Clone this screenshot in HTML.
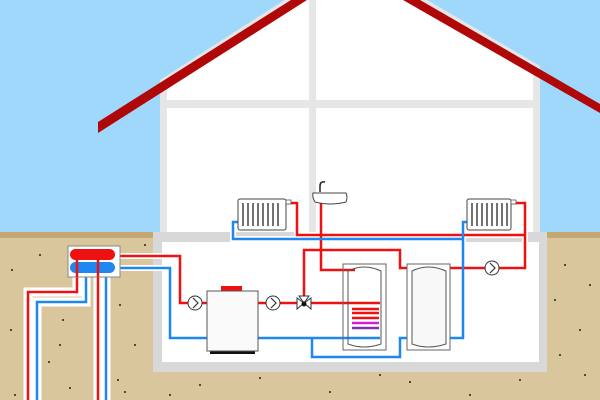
<!DOCTYPE html>
<html><head><meta charset="utf-8"><style>html,body{margin:0;padding:0;width:600px;height:400px;overflow:hidden;background:#a0d8fc}</style></head>
<body>
<svg width="600" height="400" viewBox="0 0 600 400" xmlns="http://www.w3.org/2000/svg">
<rect width="600" height="400" fill="#a0d8fc"/>
<!-- ground -->
<rect x="0" y="232" width="600" height="168" fill="#d9c69c"/>
<rect x="0" y="232" width="600" height="6" fill="#c4a772"/>
<g fill="#222">
<circle cx="12" cy="270" r="1"/><circle cx="40" cy="255" r="1"/><circle cx="145" cy="245" r="1"/><circle cx="11" cy="330" r="1"/><circle cx="63" cy="320" r="1"/><circle cx="49" cy="362" r="1"/><circle cx="70" cy="388" r="1"/><circle cx="120" cy="305" r="1"/><circle cx="135" cy="345" r="1"/><circle cx="118" cy="380" r="1"/><circle cx="140" cy="255" r="1"/><circle cx="15" cy="395" r="1"/><circle cx="60" cy="345" r="1"/><circle cx="125" cy="392" r="1"/><circle cx="200" cy="385" r="1"/><circle cx="260" cy="378" r="1"/><circle cx="330" cy="392" r="1"/><circle cx="410" cy="382" r="1"/><circle cx="470" cy="395" r="1"/><circle cx="520" cy="380" r="1"/><circle cx="565" cy="265" r="1"/><circle cx="555" cy="300" r="1"/><circle cx="580" cy="330" r="1"/><circle cx="590" cy="285" r="1"/><circle cx="560" cy="355" r="1"/><circle cx="585" cy="375" r="1"/><circle cx="170" cy="395" r="1"/><circle cx="380" cy="375" r="1"/><circle cx="30" cy="300" r="1"/><circle cx="155" cy="290" r="1"/>
</g>
<!-- house upper -->
<polygon points="160,232 160,80 300,-10 410,-10 540,66 540,232" fill="#e6e6e6"/>
<polygon points="167,232 167,88 300,0 410,0 533,72 533,232" fill="#fff"/>
<rect x="309" y="0" width="7" height="232" fill="#e6e6e6"/>
<rect x="160" y="100" width="380" height="8" fill="#e6e6e6"/>
<!-- roof -->
<polygon points="98,122 291,0 307,0 98,133" fill="#b00808"/>
<polygon points="403,0 420,0 600,104 600,113" fill="#b00808"/>
<!-- basement -->
<rect x="153" y="232" width="394" height="140" fill="#d8d8d8"/>
<rect x="162" y="242" width="377" height="120" fill="#fff"/>
<!-- pipes -->
<g fill="none" stroke-linejoin="miter" stroke="#fff" stroke-width="6">
<path d="M113,256H180V303H207M258,303H345M304,303V250H400V268H525V203H512M287,203H297V235H525M321,203V270H355"/>
<path d="M113,268H170V338H207M258,338H380M312,338V357H400V338H408M450,338H463V222H467M238,222H233V239H463"/>
</g>
<g fill="none" stroke="#fff" stroke-width="9">
<path d="M77,260V292H28V400M86,262V302H37V400M98,260V400M106,262V400"/>
</g>
<g fill="none" stroke="#ee1111" stroke-width="2.5">
<path d="M113,256H180V303H207M258,303H380M304,303V250H400V268H525V203H512M287,203H297V235H525M321,203V270H355"/>
<path d="M77,260V292H28V400M98,260V400"/>
<path d="M352,309H379M352,313H379M352,318H379" />
</g>
<path d="M352,323H379" stroke="#d020d0" stroke-width="2.5"/>
<path d="M352,328H379" stroke="#8030b0" stroke-width="2.5"/>
<g fill="none" stroke="#1e88f0" stroke-width="2.5">
<path d="M113,268H170V338H207M258,338H380M312,338V357H400V338H408M450,338H463V222H467M238,222H233V239H463"/>
<path d="M86,262V302H37V400M106,262V400"/>
</g>
<!-- collector -->
<rect x="68" y="246" width="52" height="31" fill="#fff" stroke="#888" stroke-width="1"/>
<rect x="70" y="249" width="45" height="11" rx="5.5" fill="#ee1111"/>
<rect x="70" y="262" width="45" height="11" rx="5.5" fill="#1e88f0"/>
<path d="M77,260V277M98,260V277" stroke="#ee1111" stroke-width="2.5"/>
<!-- boiler -->
<rect x="221" y="286" width="21" height="6" fill="#ee1111"/>
<rect x="210" y="349" width="45" height="5" fill="#111"/>
<rect x="207" y="291" width="51" height="60" fill="#fafafa" stroke="#555" stroke-width="1"/>
<!-- pumps -->
<g fill="#fff" stroke="#333" stroke-width="1">
<circle cx="195" cy="303" r="7"/><circle cx="273" cy="303" r="7"/><circle cx="492" cy="268" r="7"/>
</g>
<g fill="none" stroke="#333" stroke-width="1.2">
<path d="M193,298L198,303L193,308M271,298L276,303L271,308M490,263L495,268L490,273"/>
</g>
<!-- valve -->
<polygon points="297,298 297,309 304,303" fill="#fff" stroke="#333"/>
<polygon points="311,298 311,309 304,303" fill="#fff" stroke="#333"/>
<polygon points="299,296 309,296 304,303" fill="#fff" stroke="#333"/>
<circle cx="304" cy="304" r="2.5" fill="#111"/>
<!-- tanks -->
<rect x="343" y="264" width="43" height="86" fill="none" stroke="#666" stroke-width="1"/>
<path d="M348,271Q364,263 381,271V344Q364,350 348,344Z" fill="none" stroke="#555" stroke-width="1"/>
<rect x="407" y="264" width="43" height="86" fill="#fff" stroke="#666" stroke-width="1"/>
<path d="M412,271Q428,263 446,271V344Q428,350 412,344Z" fill="#f8f8f8" stroke="#555" stroke-width="1"/>
<!-- radiators -->
<g>
<rect x="238" y="199" width="48" height="31" rx="2" fill="#fff" stroke="#444"/>
<rect x="286" y="200" width="5" height="4" fill="#fff" stroke="#444" stroke-width=".7"/>
<path d="M243,203V226M248,203V226M253,203V226M258,203V226M263,203V226M268,203V226M273,203V226M278,203V226" stroke="#444" stroke-width="1.5"/>
<rect x="467" y="199" width="44" height="31" rx="2" fill="#fff" stroke="#444"/>
<rect x="511" y="200" width="5" height="4" fill="#fff" stroke="#444" stroke-width=".7"/>
<path d="M472,203V226M477,203V226M482,203V226M487,203V226M492,203V226M497,203V226M502,203V226M507,203V226" stroke="#444" stroke-width="1.5"/>
</g>
<!-- sink -->
<path d="M313,193H346Q348,197 346,202Q330,206 315,202Q312,197 313,193Z" fill="#fff" stroke="#444"/>
<path d="M320,192V186Q320,181 325,182" fill="none" stroke="#222" stroke-width="1.5"/>
</svg>
</body></html>
